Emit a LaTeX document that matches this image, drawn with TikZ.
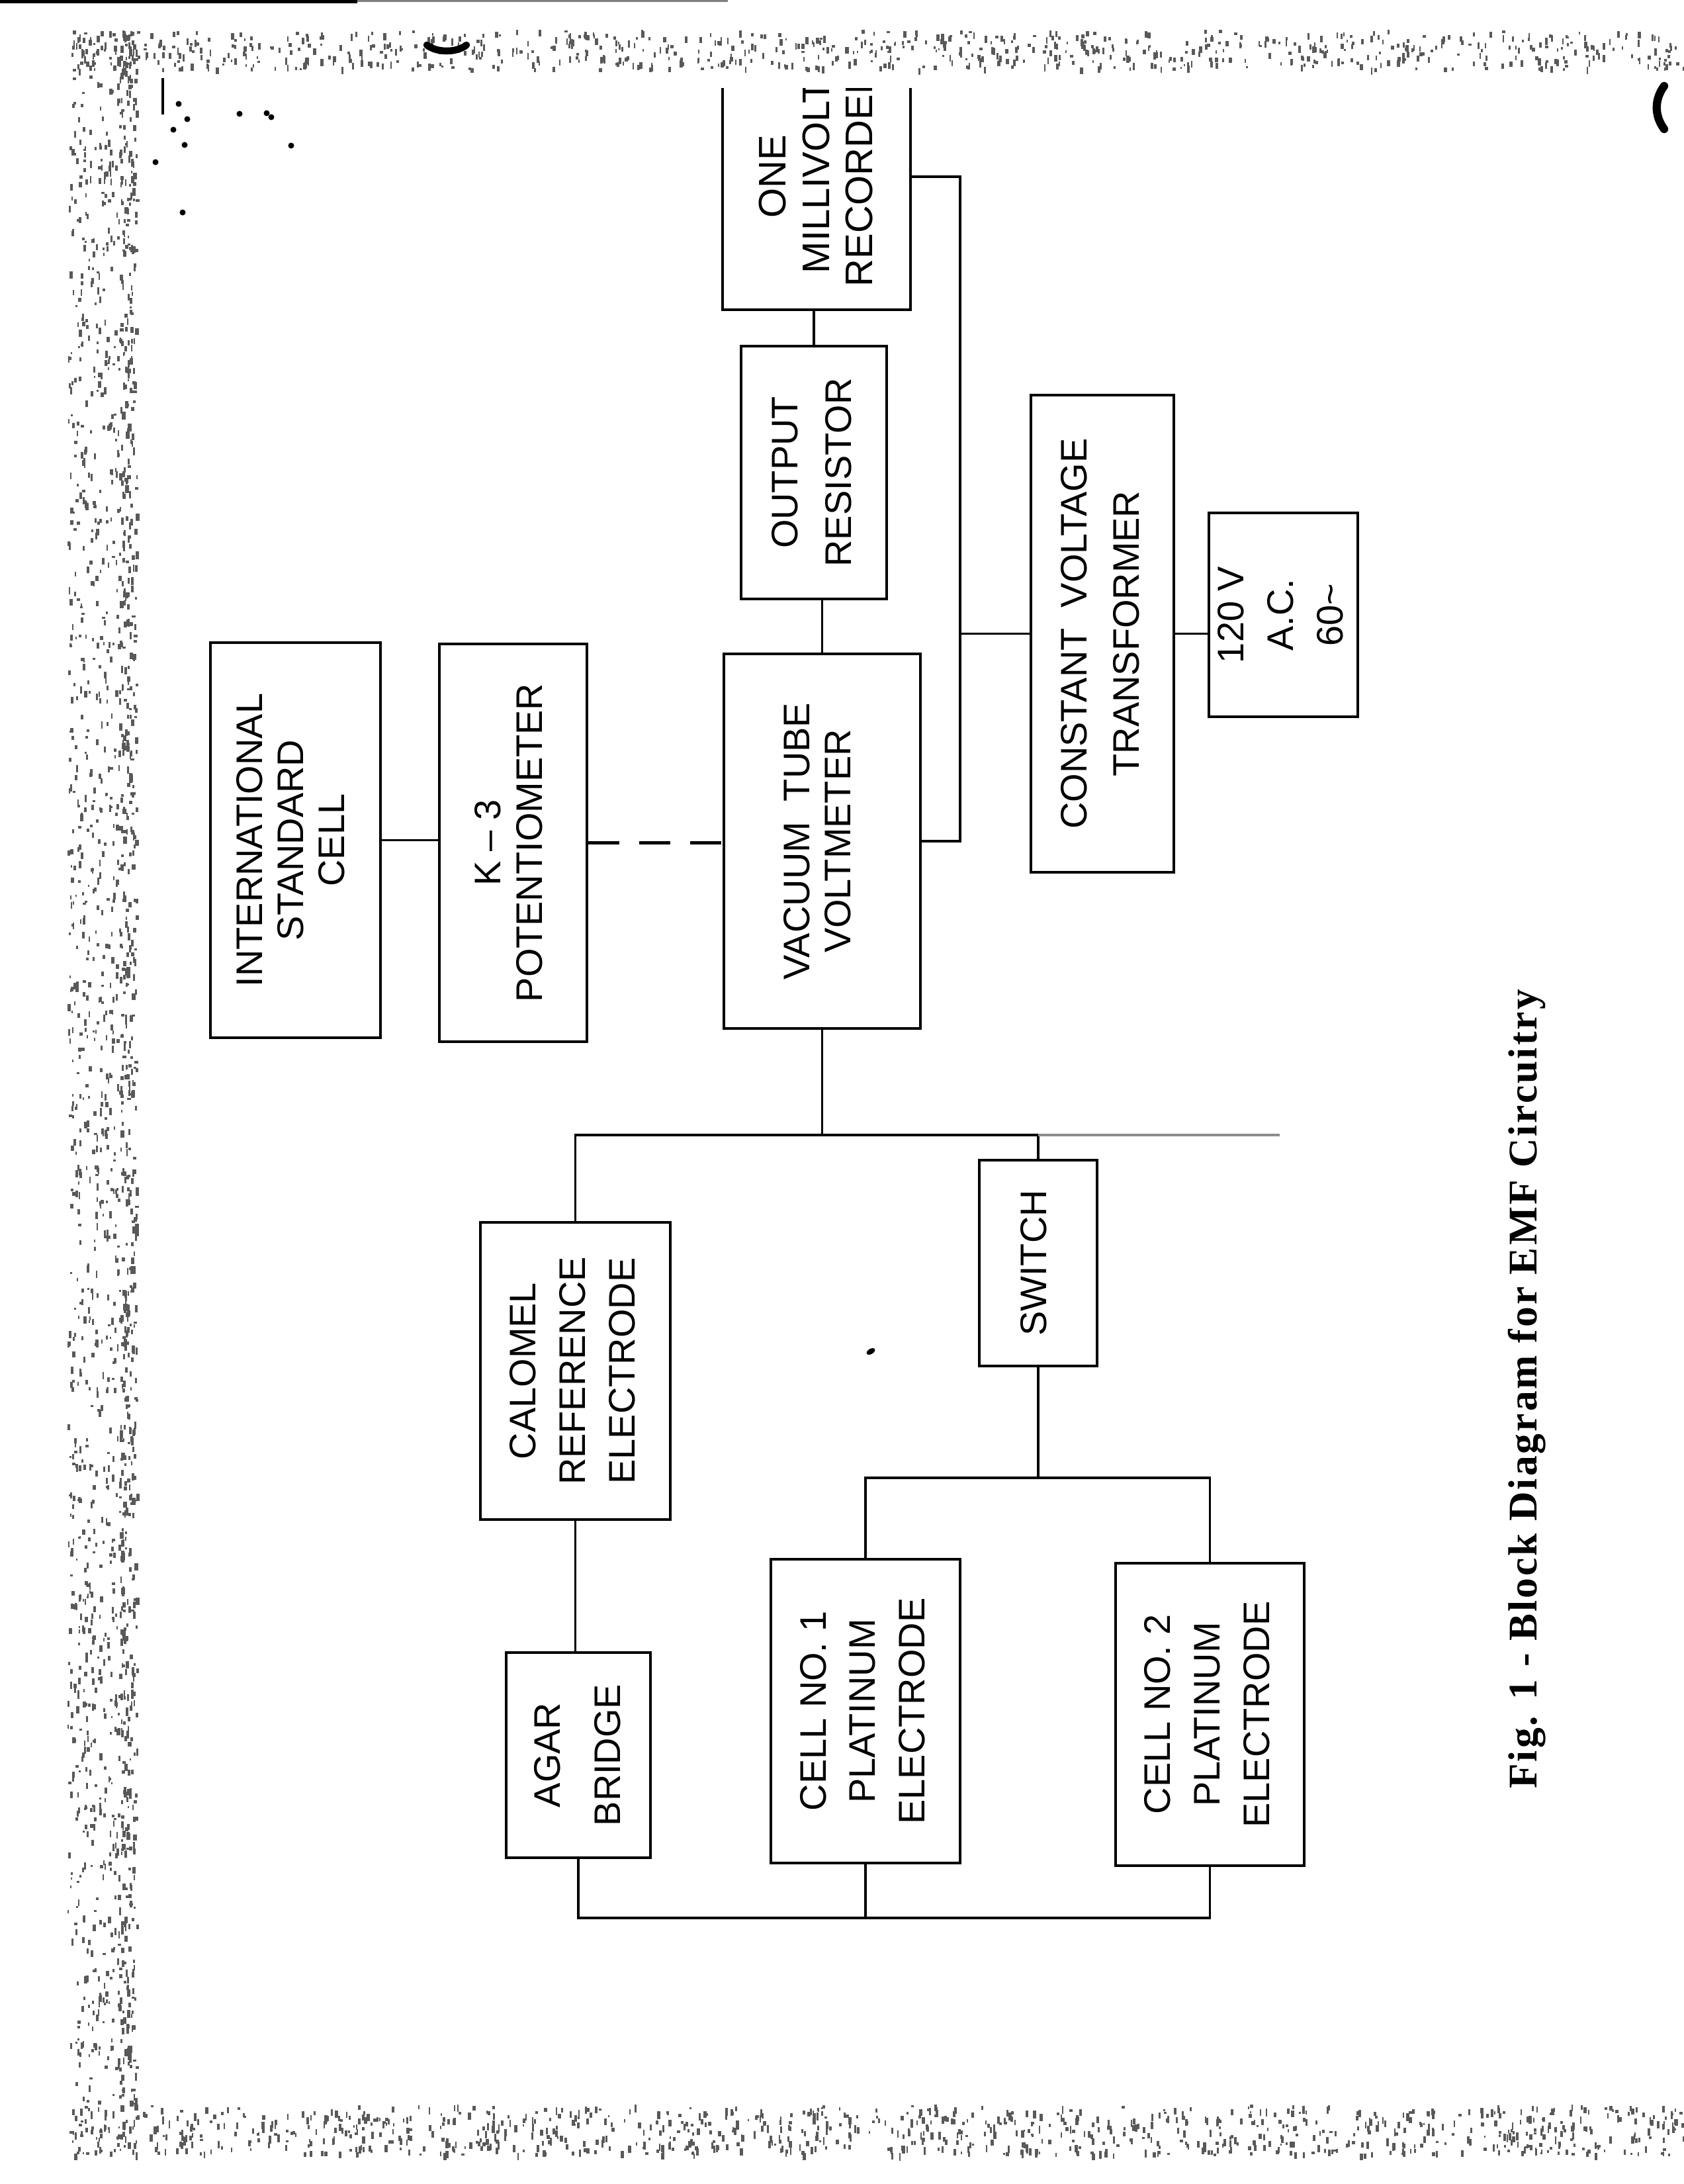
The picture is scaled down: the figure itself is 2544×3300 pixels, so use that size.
\documentclass[tikz,border=0pt]{standalone}
\usepackage{fontspec}
\usepackage{graphicx}
\setmainfont{Liberation Sans}
\newfontfamily\capfont[LetterSpace=5]{Liberation Serif}

% vertical (bottom-to-top) block label; optional argument = line pitch
\newcommand{\vlab}[2][17.6pt]{\rotatebox{90}{\fontsize{15.9}{#1}\selectfont
  \begin{tabular}{@{}c@{}}#2\end{tabular}}}

\tikzset{
  blk/.style 2 args={draw=black, line width=1.1pt, inner sep=0pt,
    minimum width=#1, minimum height=#2},
  wire/.style={draw=black, line width=1pt},
  dashwire/.style={draw=black, line width=1.4pt, dash pattern=on 0.47cm off 0.3cm},
  streak/.style={draw=black!45, line width=1.2pt},
  speck/.style={fill=black!65, draw=none},
}

\begin{document}
\begin{tikzpicture}[x=0.01cm, y=-0.01cm]
% page
\fill[white] (0,0) rectangle (2544,3300);
\useasboundingbox (0,0) rectangle (2544,3300);

% scanner edge shading (top, left, bottom)
\pgfmathsetseed{42}
\foreach \i in {1,...,800}{
  \pgfmathsetmacro{\xx}{105+2439*rnd}
  \pgfmathsetmacro{\yy}{45+58*rnd}
  \pgfmathsetmacro{\ww}{2+3*rnd}
  \pgfmathsetmacro{\hh}{3+8*rnd}
  \fill[speck] (\xx,\yy) rectangle ++(\ww,\hh);
}
\foreach \i in {1,...,1300}{
  \pgfmathsetmacro{\xx}{102+100*rnd}
  \pgfmathsetmacro{\yy}{45+3210*rnd}
  \pgfmathsetmacro{\ww}{2+3*rnd}
  \pgfmathsetmacro{\hh}{3+8*rnd}
  \fill[speck] (\xx,\yy) rectangle ++(\ww,\hh);
}
\foreach \i in {1,...,500}{
  \pgfmathsetmacro{\xx}{180+26*rnd}
  \pgfmathsetmacro{\yy}{45+3210*rnd}
  \pgfmathsetmacro{\ww}{2+4*rnd}
  \pgfmathsetmacro{\hh}{3+9*rnd}
  \fill[speck] (\xx,\yy) rectangle ++(\ww,\hh);
}
\foreach \i in {1,...,1000}{
  \pgfmathsetmacro{\xx}{102+2442*rnd}
  \pgfmathsetmacro{\yy}{3180+74*rnd}
  \pgfmathsetmacro{\ww}{2+3*rnd}
  \pgfmathsetmacro{\hh}{3+9*rnd}
  \fill[speck] (\xx,\yy) rectangle ++(\ww,\hh);
}
\fill[black] (0,0) rectangle (540,5);
\fill[black!50] (540,0) rectangle (1100,3);

% punch-hole shadows along the top edge
\draw[line width=3pt, line cap=round] (645,68) .. controls (660,80) and (690,80) .. (705,68);
\draw[line width=3.5pt, line cap=round] (2515,130) .. controls (2500,150) and (2500,175) .. (2515,195);

% stray marks near the top left corner
\draw[line width=1pt] (246,118) -- (246,173);
\foreach \p in {(270,157),(283,180),(262,196),(279,219),(235,245),(362,172),(403,171),(410,177),(440,220),(276,321)}
  \fill \p circle (4.5);
\fill[rotate around={30:(1316,2042)}] (1316,2042) ellipse (7 and 4);

% ---- blocks ----
\node[blk={2.57cm}{5.97cm}] (isc) at (446.5,1269.5)
  {\vlab{INTERNATIONAL\\STANDARD\\CELL}};
\node[blk={2.23cm}{6.01cm}] (k3) at (775.5,1273.5)
  {\vlab[18pt]{K – 3\\POTENTIOMETER}};
\node[blk={2.97cm}{5.66cm}] (vtvm) at (1242.5,1271)
  {\vlab{VACUUM\ \ TUBE\\VOLTMETER}};
\node[blk={2.20cm}{3.82cm}] (outr) at (1230,714)
  {\vlab[22.8pt]{OUTPUT\\RESISTOR}};
\begin{scope}
  \clip (1000,134) rectangle (1500,600);
  \node[minimum width=2.82cm, minimum height=4.00cm, inner sep=0pt] (rec) at (1234,267) {};
  \node (rectext) at (1240,267) {\rotatebox{90}{\fontsize{16.5}{18.5pt}\selectfont
    \begin{tabular}{@{}c@{}}ONE\\MILLIVOLT\\RECORDER\end{tabular}}};
  \draw[line width=1.1pt] (rec.north west) -- (rec.south west) -- (rec.south east) -- (rec.north east);
\end{scope}
\node[blk={2.16cm}{7.21cm}] (cvt) at (1666,957.5)
  {\vlab[22.5pt]{CONSTANT\ \ VOLTAGE\\TRANSFORMER}};
\node[blk={1.43cm}{3.08cm}] (ac) at (1939.5,929)
  {\vlab[21.3pt]{120 V\\A.C.\\60\textasciitilde}};
\node[blk={2.87cm}{4.49cm}] (cal) at (869.5,2071.5)
  {\vlab[21.3pt]{CALOMEL\\REFERENCE\\ELECTRODE}};
\node[blk={1.78cm}{3.11cm}] (sw) at (1569,1908.5)
  {\vlab{SWITCH}};
\node[blk={2.18cm}{3.10cm}] (agar) at (874,2652)
  {\vlab[25.9pt]{AGAR\\BRIDGE}};
\node[blk={2.86cm}{4.59cm}] (c1) at (1308,2585.5)
  {\vlab[21.3pt]{CELL NO. 1\\PLATINUM\\ELECTRODE}};
\node[blk={2.85cm}{4.57cm}] (c2) at (1828.5,2590.5)
  {\vlab[21.3pt]{CELL NO. 2\\PLATINUM\\ELECTRODE}};

% ---- bus points ----
\coordinate (rbus) at (1451,1280);
\coordinate (mbus) at (1238,1715);
\coordinate (cbus) at (1573,2233);
\coordinate (bbus) at (881,2898);
\coordinate (streakend) at (1934,1715);

% ---- connections ----
\draw[wire] (isc.east) -- (isc.east -| k3.west);
\draw[dashwire] (k3.east) -- (k3.east -| vtvm.west);
\draw[wire] (vtvm.north) -- (vtvm.north |- outr.south);
\draw[wire] (outr.north) -- (outr.north |- rec.south);
\draw[wire] (vtvm.east) -- (vtvm.east -| rbus) |- (rec.east);
\draw[wire] (cvt.west) -- (cvt.west -| rbus);
\draw[wire] (cvt.east) -- (cvt.east -| ac.west);
\draw[wire] (vtvm.south) -- (vtvm.south |- mbus);
\draw[wire] (cal.north) |- (mbus) -| (sw.north);
\draw[streak] (sw.north |- mbus) -- (streakend);
\draw[wire] (cal.south) -- (cal.south |- agar.north);
\draw[wire] (sw.south) -- (sw.south |- cbus);
\draw[wire] (c1.north) |- (sw.south |- cbus) -| (c2.north);
\draw[wire] (agar.south) |- (c1.south |- bbus) -| (c2.south);
\draw[wire] (c1.south) -- (c1.south |- bbus);

% ---- caption ----
\node[rotate=90, font=\capfont\bfseries\fontsize{17.5}{20}\selectfont] (cap) at (2308,2099)
  {Fig. 1 - Block Diagram for EMF Circuitry};
\end{tikzpicture}
\end{document}
